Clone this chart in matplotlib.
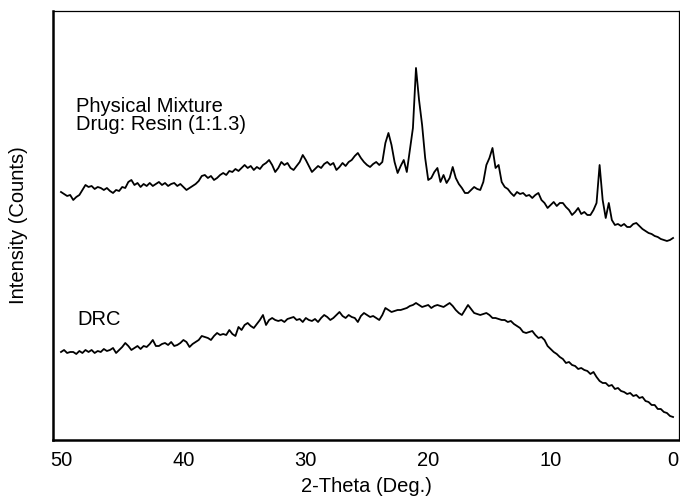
import numpy as np
import matplotlib
matplotlib.use("Agg")
import matplotlib.pyplot as plt

plt.rcParams["font.family"] = ["Liberation Sans", "DejaVu Sans"]

# 2-theta scan grid, 50 -> 0 deg in 0.25 deg steps
two_theta = np.round(np.arange(50, -0.001, -0.25), 2)

# Physical mixture, drug:resin (1:1.3), arbitrary counts
mixture = [
    248, 246, 244, 245, 240, 243, 245, 250,   # 50.00 - 48.25
    255, 253, 254, 251, 253, 252, 250, 252,   # 48.00 - 46.25
    249, 247, 250, 249, 253, 252, 258, 260,   # 46.00 - 44.25
    255, 257, 253, 256, 254, 257, 254, 256,   # 44.00 - 42.25
    258, 255, 257, 254, 256, 257, 254, 256,   # 42.00 - 40.25
    253, 250, 252, 254, 256, 259, 264, 265,   # 40.00 - 38.25
    262, 264, 260, 262, 265, 267, 265, 269,   # 38.00 - 36.25
    268, 271, 269, 272, 275, 272, 274, 270,   # 36.00 - 34.25
    273, 271, 275, 277, 280, 275, 268, 272,   # 34.00 - 32.25
    278, 275, 277, 272, 270, 274, 278, 285,   # 32.00 - 30.25
    280, 274, 268, 271, 274, 272, 276, 278,   # 30.00 - 28.25
    275, 277, 270, 273, 277, 274, 278, 280,   # 28.00 - 26.25
    284, 287, 282, 278, 275, 273, 276, 278,   # 26.00 - 24.25
    275, 278, 297, 307, 295, 278, 267, 274,   # 24.00 - 22.25
    280, 268, 290, 312, 372, 340, 315, 282,   # 22.00 - 20.25
    260, 262, 268, 272, 258, 265, 257, 262,   # 20.00 - 18.25
    273, 262, 256, 252, 247, 247, 250, 253,   # 18.00 - 16.25
    251, 250, 258, 275, 282, 292, 272, 275,   # 16.00 - 14.25
    258, 253, 251, 247, 244, 248, 246, 247,   # 14.00 - 12.25
    244, 245, 242, 245, 247, 240, 237, 232,   # 12.00 - 10.25
    235, 238, 234, 237, 237, 233, 230, 225,   # 10.00 - 8.25
    228, 232, 226, 228, 225, 225, 230, 237,   # 8.00 - 6.25
    275, 240, 222, 237, 220, 215, 216, 214,   # 6.00 - 4.25
    216, 213, 213, 216, 217, 214, 211, 209,   # 4.00 - 2.25
    207, 206, 204, 203, 201, 200, 199, 200,   # 2.00 - 0.25
    202,                                      # 0.00
]

# DRC, arbitrary counts
drc = [
    88, 90, 87, 88, 88, 86, 89, 87,
    90, 88, 90, 87, 89, 88, 91, 89,
    90, 92, 87, 90, 93, 97, 94, 90,
    92, 94, 91, 94, 93, 96, 100, 94,
    94, 96, 97, 95, 98, 94, 95, 97,
    100, 98, 93, 96, 98, 100, 104, 103,
    102, 100, 104, 107, 105, 106, 105, 110,
    106, 104, 113, 110, 115, 117, 114, 112,
    116, 120, 125, 115, 120, 122, 120, 119,
    120, 118, 121, 122, 123, 120, 121, 118,
    122, 120, 119, 121, 118, 122, 125, 123,
    120, 122, 125, 128, 124, 122, 125, 123,
    122, 118, 124, 127, 125, 123, 124, 122,
    120, 125, 132, 130, 128, 129, 130, 130,
    131, 132, 134, 135, 137, 135, 133, 134,
    135, 132, 134, 135, 134, 133, 135, 137,
    134, 130, 127, 125, 130, 135, 131, 127,
    126, 125, 126, 127, 125, 122, 122, 121,
    120, 120, 118, 119, 116, 114, 112, 108,
    107, 108, 109, 105, 102, 103, 100, 94,
    91, 88, 86, 83, 81, 77, 78, 75,
    74, 71, 72, 70, 69, 66, 68, 63,
    59, 57, 57, 54, 55, 51, 52, 49,
    48, 46, 47, 44, 45, 42, 43, 39,
    38, 35, 35, 31, 31, 28, 27, 24,
    23,
]

xticks = [50, 40, 30, 20, 10, 0]

fig = plt.figure(figsize=(6.8, 4.97), dpi=100)
ax = fig.add_axes([0.078, 0.1147, 0.9206, 0.8632])

ax.plot(two_theta, mixture, color="black", lw=1.3)
ax.plot(two_theta, drc, color="black", lw=1.3)

ax.set_xlim(50.65, -0.49)
ax.set_ylim(0, 429)
ax.set_xticks(xticks)
ax.set_yticks([])
ax.tick_params(axis="x", length=0, pad=8, labelsize=14.5)

for s in ["left", "bottom"]:
    ax.spines[s].set_linewidth(1.8)
for s in ["top", "right"]:
    ax.spines[s].set_linewidth(0.9)

ax.set_xlabel("2-Theta (Deg.)", fontsize=14.5, labelpad=5)
ax.set_ylabel("Intensity (Counts)", fontsize=14.5)
ax.yaxis.set_label_coords(-0.04, 0.5)

ax.text(48.8, 333, "Physical Mixture", fontsize=14.5, va="center")
ax.text(48.8, 315, "Drug: Resin (1:1.3)", fontsize=14.5, va="center")
ax.text(48.7, 120, "DRC", fontsize=14.5, va="center")

fig.savefig("out.png", dpi=100)
